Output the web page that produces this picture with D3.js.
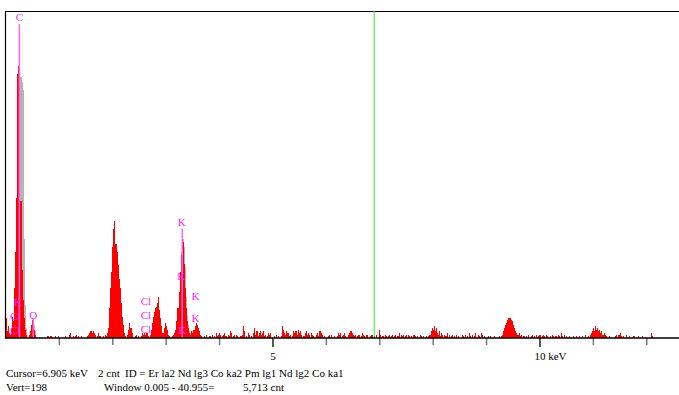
<!DOCTYPE html>
<html>
<head>
<meta charset="utf-8">
<script src="https://cdn.jsdelivr.net/npm/d3@7/dist/d3.min.js"></script>
<style>
  html, body { margin: 0; padding: 0; background: #fff; }
  svg { display: block; }
  text { font-family: "Liberation Serif", "Times New Roman", serif; }
</style>
</head>
<body>
<svg id="chart" width="679" height="395"></svg>
<script>
// ---- DATA ----
const channelWidth = 0.02;   // keV per channel
const energyMax = 12.6;      // keV, full window
const vertScale = 198;       // counts, full scale
const cursorEnergy = 6.905;  // keV

// spectrum counts, channel i covers [i*0.02, (i+1)*0.02) keV
const counts = [
  12,4,7,3,2,6,13,10,30,52,
  85,160,165,135,83,41,23,12,5,2,
  0,0,2,4,8,11,8,5,2,0,
  0,0,0,0,0,0,0,0,0,1,
  1,0,1,1,0,0,1,0,0,1,
  0,0,0,0,0,0,1,0,0,2,
  3,0,0,1,0,1,2,0,1,0,
  0,1,0,0,0,0,1,2,3,4,
  4,3,4,3,2,0,1,3,1,0,
  0,1,0,2,1,3,6,18,30,40,
  55,66,71,57,52,44,36,30,21,13,
  8,3,1,0,2,5,9,6,3,0,
  0,1,2,0,1,0,0,1,3,2,
  3,2,3,1,0,2,5,9,13,16,
  18,19,21,25,17,12,7,3,6,9,
  7,5,2,1,0,0,1,2,3,5,
  10,18,28,40,50,56,58,45,30,18,
  10,6,3,2,4,3,5,7,9,8,
  6,4,2,1,0,0,1,0,2,0,
  0,1,0,2,0,1,0,3,1,2,
  3,2,0,1,2,3,1,0,2,1,
  4,3,0,1,2,0,2,1,0,0,
  1,2,7,4,0,1,0,3,2,0,
  1,0,3,6,2,4,1,3,4,2,
  3,4,1,2,0,1,3,2,3,0,
  0,1,0,2,0,1,0,0,1,7,
  5,3,2,4,3,1,2,0,1,4,
  3,4,4,2,5,3,4,2,0,1,
  3,4,2,3,2,0,3,2,1,0,
  0,2,3,1,4,3,2,0,1,0,
  0,0,1,2,0,2,0,0,1,0,
  1,3,2,3,0,1,2,3,1,0,
  0,2,3,4,3,2,1,2,0,1,
  2,2,0,1,3,2,1,0,2,0,
  0,1,2,2,0,1,0,2,0,0,
  5,2,0,1,0,2,1,0,1,2,
  0,1,2,0,1,2,0,1,3,0,
  2,1,2,0,1,2,0,2,1,0,
  1,0,2,1,0,1,0,0,2,1,
  0,1,0,0,1,0,1,2,4,6,
  5,7,4,6,3,2,4,1,3,2,
  0,2,1,3,0,2,0,1,2,0,
  1,0,2,0,1,0,0,2,1,0,
  2,0,1,0,3,1,0,2,0,1,
  3,0,2,1,0,3,2,0,1,0,
  0,0,1,0,1,0,0,1,0,0,
  0,0,1,0,1,2,4,6,8,9,
  11,12,12,11,10,8,6,4,3,2,
  2,3,1,2,0,1,0,1,0,2,
  0,0,1,2,0,1,0,2,0,1,
  2,0,1,2,1,0,2,1,0,0,
  1,0,2,1,0,1,0,2,1,0,
  3,1,0,2,0,1,0,0,1,0,
  0,1,0,0,1,0,0,1,0,0,
  1,0,0,2,0,1,0,2,3,4,
  6,4,7,5,6,4,5,3,4,2,
  3,2,1,0,0,1,0,0,0,0,
  0,1,2,0,2,3,1,0,1,0,
  0,2,0,0,1,0,0,0,1,0,
  0,0,1,0,0,0,1,0,0,0,
  0,0,0,0,3,1,0,0,0,0
];

// grey overlay (comparison spectrum) around the main peaks
const overlayCStart = 10;
const overlayC = [70,120,160,165,158,155,150,60,20,6];
const overlayOStart = 24;
const overlayO = [6,12,12,8,4];
const overlayKStart = 160;
const overlayK = [8,15,25,38,52,58,60,55,43,25,14,8,4,3,3,4,5,7,8,8,6,3];

// KLM marker labels: text, energy (keV), label level (counts)
const labelText   = ["C",   "K",  "Cl", "Cl", "O",   "Cl", "Cl", "Cl", "K",   "K",   "K",   "K",  "K"];
const labelEnergy = [0.26,  0.23, 0.18, 0.18, 0.52,  2.63, 2.63, 2.63, 3.30,  3.29,  3.31,  3.56, 3.56];
const labelLevel  = [194,   22,   13.5, 5,     14,   22.5, 14,   5.5,  70,    37.5,  5,     25.5, 12];

// marker lines: energy, top level (counts)
const lineEnergy = [0.26, 0.52, 3.31];
const lineTop    = [190,  11,   66];

// axis ticks
const tickValues = [1,2,3,4,5,6,7,8,9,10,11,12];
const majorTicks = [5, 10];

// status text
const statusLine1a = "Cursor=6.905 keV";
const statusLine1b = "2 cnt";
const statusLine1c = "ID = Er la2 Nd lg3 Co ka2 Pm lg1 Nd lg2 Co ka1";
const statusLine2a = "Vert=198";
const statusLine2b = "Window 0.005 - 40.955=";
const statusLine2c = "5,713 cnt";

// ---- DRAW ----
const svg = d3.select("#chart");
const plotLeft = 5.5, plotRight = 678.3, plotTop = 11, plotBase = 338;

const x = d3.scaleLinear().domain([0, energyMax]).range([plotLeft, plotRight]);
const y = d3.scaleLinear().domain([0, vertScale]).range([plotBase, plotTop]);
const bw = x(channelWidth) - x(0);

// frame
svg.append("line").attr("x1", 5).attr("x2", 679).attr("y1", plotTop + 0.5).attr("y2", plotTop + 0.5)
  .attr("stroke", "#000").attr("stroke-width", 1);
svg.append("line").attr("x1", plotLeft).attr("x2", plotLeft).attr("y1", plotTop).attr("y2", plotBase)
  .attr("stroke", "#000").attr("stroke-width", 1.2);

// overlay
function drawOverlay(start, arr) {
  svg.append("g").attr("shape-rendering", "crispEdges")
    .selectAll("rect").data(arr).join("rect")
    .attr("x", (d, i) => x((start + i) * channelWidth))
    .attr("width", bw)
    .attr("y", d => y(d))
    .attr("height", d => plotBase - y(d))
    .attr("fill", "#b4b4b4");
}
drawOverlay(overlayCStart, overlayC);
drawOverlay(overlayOStart, overlayO);
drawOverlay(overlayKStart, overlayK);

// spectrum
svg.append("g").attr("shape-rendering", "crispEdges")
  .selectAll("rect").data(counts).join("rect")
  .attr("x", (d, i) => x(i * channelWidth))
  .attr("width", bw)
  .attr("y", d => y(d))
  .attr("height", d => plotBase - y(d))
  .attr("fill", "#ff0000");

// cursor
svg.append("line").attr("x1", x(cursorEnergy)).attr("x2", x(cursorEnergy))
  .attr("y1", plotTop).attr("y2", plotBase)
  .attr("stroke", "#22ee22").attr("stroke-width", 1);

// marker lines
svg.append("g").selectAll("line").data(lineEnergy).join("line")
  .attr("x1", d => x(d)).attr("x2", d => x(d))
  .attr("y1", (d, i) => y(lineTop[i])).attr("y2", plotBase)
  .attr("stroke", "#ff66ee").attr("stroke-width", 1.5);

// labels
svg.append("g").selectAll("text").data(labelText).join("text")
  .attr("x", (d, i) => x(labelEnergy[i]))
  .attr("y", (d, i) => y(labelLevel[i]))
  .attr("dy", "0.35em")
  .attr("text-anchor", "middle")
  .attr("font-size", 11)
  .attr("fill", "#ff22ff")
  .text(d => d);

// axis
const axis = d3.axisBottom(x).tickValues(tickValues)
  .tickSize(7).tickFormat(d => d === 5 ? "5" : (d === 10 ? "10 keV" : ""));
const ag = svg.append("g").attr("transform", `translate(0,${plotBase})`).call(axis);
ag.select(".domain").remove();
ag.selectAll(".tick line")
  .attr("stroke", d => majorTicks.includes(d) ? "#222" : "#777")
  .attr("stroke-width", 1.5)
  .attr("y2", d => majorTicks.includes(d) ? 9 : 7);
ag.selectAll(".tick text")
  .attr("font-family", "Liberation Serif, serif")
  .attr("font-size", 11)
  .attr("fill", "#000")
  .attr("y", 14)
  .attr("dy", "0.71em")
  .attr("text-anchor", d => d === 10 ? "start" : "middle")
  .attr("dx", d => d === 10 ? -5.5 : 0);
svg.append("line").attr("x1", 5).attr("x2", 679).attr("y1", plotBase).attr("y2", plotBase)
  .attr("stroke", "#000").attr("stroke-width", 1.5);

// status text
const st = svg.append("g").attr("font-size", 11).attr("fill", "#000");
st.append("text").attr("x", 6).attr("y", 377).text(statusLine1a);
st.append("text").attr("x", 98).attr("y", 377).text(statusLine1b);
st.append("text").attr("x", 125).attr("y", 377).text(statusLine1c);
st.append("text").attr("x", 6).attr("y", 391).text(statusLine2a);
st.append("text").attr("x", 104).attr("y", 391).text(statusLine2b);
st.append("text").attr("x", 243).attr("y", 391).text(statusLine2c);
</script>
</body>
</html>
